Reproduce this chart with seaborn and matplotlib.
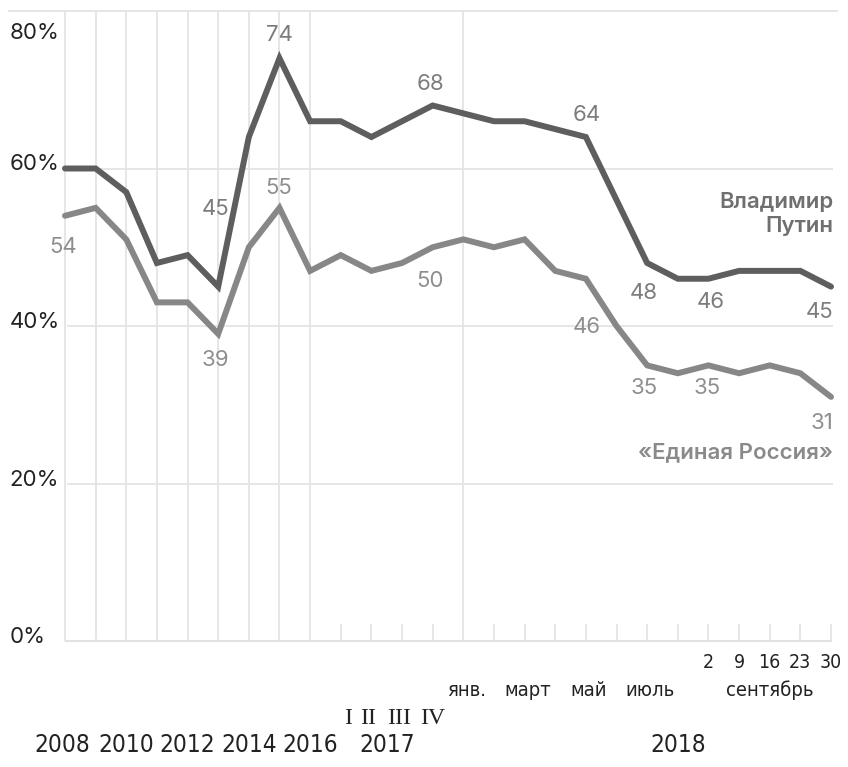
import numpy as np
import pandas as pd
import matplotlib
matplotlib.use("Agg")
import matplotlib.pyplot as plt
import seaborn as sns

# periods: 2008-2016 yearly, 2017 quarters, 2018 months, then september weeks
years = ['2008', '2009', '2010', '2011', '2012', '2013', '2014', '2015', '2016']
quarters = ['I', 'II', 'III', 'IV']
months = ['янв.', 'фев.', 'март', 'апр.', 'май', 'июнь', 'июль', 'авг.']
weeks = ['2', '9', '16', '23', '30']

putin = [60, 60, 57, 48, 49, 45, 64, 74, 66,
         66, 64, 66, 68,
         67, 66, 66, 65, 64, 56, 48, 46,
         46, 47, 47, 47, 45]
er = [54, 55, 51, 43, 43, 39, 50, 55, 47,
      49, 47, 48, 50,
      51, 50, 51, 47, 46, 40, 35, 34,
      35, 34, 35, 34, 31]

# which points carry a value label (offset in pixels)
putin_lab = {5: (-3, 78), 7: (0, 23), 12: (-2, 21), 17: (1, 22), 19: (-3, -30), 21: (2, -23), 25: (-11, -25)}
er_lab = {0: (-2, -31), 7: (-1, 20), 5: (-3, -26), 12: (-3, -34), 17: (1, -48), 19: (-3, -23), 21: (-1, -23), 25: (-9, -26)}

year_lbl = ['2008', '2010', '2012', '2014', '2016']
year_pos = [0, 2, 4, 6, 8]
month_lbl = ['янв.', 'март', 'май', 'июль']
month_pos = [13, 15, 17, 19]

n = len(putin)
idx = np.arange(n)
df = pd.DataFrame({'i': np.concatenate([idx, idx]),
                   'v': putin + er,
                   'who': ['Путин'] * n + ['ЕР'] * n})

sns.set_style("white")
plt.rcParams['font.family'] = ['Inter', 'DejaVu Sans']

c_putin = '#5e5e5e'
c_er = '#878787'
grid_c = '#e2e2e2'

fig = plt.figure(figsize=(8.48, 7.67), dpi=100)
ax = fig.add_axes([65 / 848, 126 / 767, 766 / 848, 630 / 767])
ax.set_xlim(0, n - 1)
ax.set_ylim(0, 80)
ax.axis('off')

# grid
for v in [20, 40, 60]:
    ax.hlines(v, 0.05, n - 1 + 0.06, color=grid_c, lw=1.2, clip_on=False, zorder=0)
ax.hlines(0, 0, n - 1 + 0.03, color=grid_c, lw=1.5, clip_on=False, zorder=0)
ax.hlines(80, -1.85, n - 1 + 0.22, color=grid_c, lw=1.2, clip_on=False, zorder=0)
full = list(range(len(years))) + [len(years) + len(quarters)]
for i in idx:
    top = 80 if i in full else 2.2
    ax.vlines(i, 0, top, color=grid_c, lw=1.2, clip_on=False, zorder=0)

sns.lineplot(data=df, x='i', y='v', hue='who', palette={'Путин': c_putin, 'ЕР': c_er},
             hue_order=['ЕР', 'Путин'], lw=4.3, legend=False, ax=ax)
for l in ax.lines:
    l.set_solid_joinstyle('miter')
    l.set_clip_on(False)

# y labels
ytf = ax.get_yaxis_transform()
for v in [0, 20, 40, 60, 80]:
    off = -22 if v == 80 else 4
    ax.annotate(f'{v}%', xy=(-0.072, v), xycoords=ytf, xytext=(0, off),
                textcoords='offset pixels', ha='left', va='center',
                fontsize=16, color='#222222', annotation_clip=False)

# value labels
for i, (dx, dy) in putin_lab.items():
    ax.annotate(str(putin[i]), xy=(i, putin[i]), xytext=(dx, dy), textcoords='offset pixels',
                ha='center', va='center', fontsize=16, color='#7c7c7c', annotation_clip=False)
for i, (dx, dy) in er_lab.items():
    ax.annotate(str(er[i]), xy=(i, er[i]), xytext=(dx, dy), textcoords='offset pixels',
                ha='center', va='center', fontsize=16, color='#8e8e8e', annotation_clip=False)

# series names
ax.text(n - 1 + 0.07, 54.2, 'Владимир\nПутин', ha='right', va='center', ma='right',
        fontsize=16, fontweight='semibold', color='#6f6f6f', linespacing=1.25)
ax.text(n - 1 + 0.07, 24.0, '«Единая Россия»', ha='right', va='center',
        fontsize=16, fontweight='semibold', color='#8a8a8a')

# x labels (rows placed in pixels below the baseline)
xtf = ax.get_xaxis_transform()
def row(y_px):
    return -(y_px - 641) / 630

xfont = dict(family=['DejaVu Sans'], fontstretch='condensed', color='#222222',
             ha='center', va='center', transform=xtf)
for lbl, p in zip(weeks, range(n - len(weeks), n)):
    ax.text(p, row(662), lbl, fontsize=14, **xfont)
ax.text(n - 3, row(690), 'сентябрь', fontsize=14.5, **xfont)
for lbl, p in zip(month_lbl, month_pos):
    ax.text(p + 0.1, row(690), lbl, fontsize=14.5, **xfont)
for k, lbl in enumerate(quarters):
    p = len(years) + k
    ax.text(p + [0.25, -0.1, -0.1, 0][k], row(718), lbl, transform=xtf, ha='center', va='center',
            fontsize=17, color='#222222', family=['Liberation Serif', 'DejaVu Serif'])
for lbl, p in zip(year_lbl, year_pos):
    ax.text(p - 0.1 if p == 0 else p, row(745), lbl, fontsize=17.5, **xfont)
ax.text(len(years) + 1.5, row(745), '2017', fontsize=17.5, **xfont)
ax.text(20, row(745), '2018', fontsize=17.5, **xfont)

fig.savefig('out.png', dpi=100, facecolor='white')
